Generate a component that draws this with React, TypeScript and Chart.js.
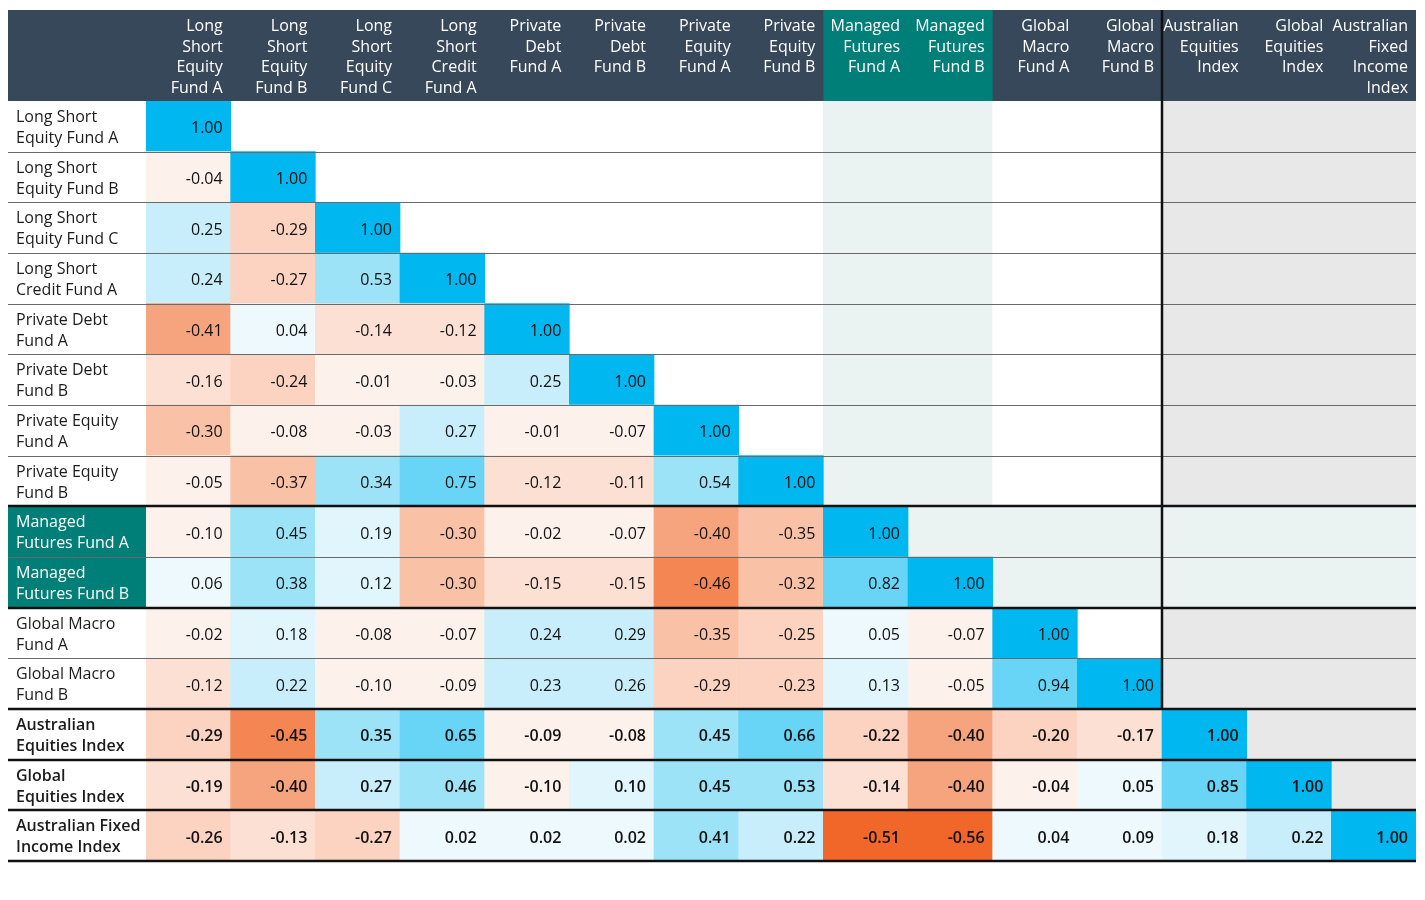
import React, { useEffect, useRef } from "react";
import { Chart, registerables } from "chart.js";

Chart.register(...registerables);

const columnLabels: string[][] = [
  ["Long", "Short", "Equity", "Fund A"],
  ["Long", "Short", "Equity", "Fund B"],
  ["Long", "Short", "Equity", "Fund C"],
  ["Long", "Short", "Credit", "Fund A"],
  ["Private", "Debt", "Fund A"],
  ["Private", "Debt", "Fund B"],
  ["Private", "Equity", "Fund A"],
  ["Private", "Equity", "Fund B"],
  ["Managed", "Futures", "Fund A"],
  ["Managed", "Futures", "Fund B"],
  ["Global", "Macro", "Fund A"],
  ["Global", "Macro", "Fund B"],
  ["Australian", "Equities", "Index"],
  ["Global", "Equities", "Index"],
  ["Australian", "Fixed", "Income", "Index"],
];

const rowLabels: string[][] = [
  ["Long Short", "Equity Fund A"],
  ["Long Short", "Equity Fund B"],
  ["Long Short", "Equity Fund C"],
  ["Long Short", "Credit Fund A"],
  ["Private Debt", "Fund A"],
  ["Private Debt", "Fund B"],
  ["Private Equity", "Fund A"],
  ["Private Equity", "Fund B"],
  ["Managed", "Futures Fund A"],
  ["Managed", "Futures Fund B"],
  ["Global Macro", "Fund A"],
  ["Global Macro", "Fund B"],
  ["Australian", "Equities Index"],
  ["Global", "Equities Index"],
  ["Australian Fixed", "Income Index"],
];

const correlations: number[][] = [
  [1.0],
  [-0.04, 1.0],
  [0.25, -0.29, 1.0],
  [0.24, -0.27, 0.53, 1.0],
  [-0.41, 0.04, -0.14, -0.12, 1.0],
  [-0.16, -0.24, -0.01, -0.03, 0.25, 1.0],
  [-0.3, -0.08, -0.03, 0.27, -0.01, -0.07, 1.0],
  [-0.05, -0.37, 0.34, 0.75, -0.12, -0.11, 0.54, 1.0],
  [-0.1, 0.45, 0.19, -0.3, -0.02, -0.07, -0.4, -0.35, 1.0],
  [0.06, 0.38, 0.12, -0.3, -0.15, -0.15, -0.46, -0.32, 0.82, 1.0],
  [-0.02, 0.18, -0.08, -0.07, 0.24, 0.29, -0.35, -0.25, 0.05, -0.07, 1.0],
  [-0.12, 0.22, -0.1, -0.09, 0.23, 0.26, -0.29, -0.23, 0.13, -0.05, 0.94, 1.0],
  [-0.29, -0.45, 0.35, 0.65, -0.09, -0.08, 0.45, 0.66, -0.22, -0.4, -0.2, -0.17, 1.0],
  [-0.19, -0.4, 0.27, 0.46, -0.1, 0.1, 0.45, 0.53, -0.14, -0.4, -0.04, 0.05, 0.85, 1.0],
  [-0.26, -0.13, -0.27, 0.02, 0.02, 0.02, 0.41, 0.22, -0.51, -0.56, 0.04, 0.09, 0.18, 0.22, 1.0],
];

const managedIdx = [8, 9];
const indexIdx = [12, 13, 14];

const SLATE = "#37485a";
const TEAL = "#007f78";
const LIGHT_GREEN = "#eaf3f1";
const LIGHT_GREY = "#e8e8e8";
const FONT = '"Open Sans", sans-serif';

function cellColor(v: number): string {
  if (v >= 0.999) return "#00b7ef";
  if (v >= 0.6) return "#68d4f6";
  if (v >= 0.3) return "#9de3f8";
  if (v >= 0.2) return "#c9eefb";
  if (v >= 0.1) return "#e0f5fc";
  if (v >= 0) return "#eef9fd";
  if (v > -0.105) return "#fdf1eb";
  if (v > -0.195) return "#fde0d4";
  if (v > -0.295) return "#fbd3c0";
  if (v > -0.385) return "#f9c2a7";
  if (v > -0.425) return "#f6a47e";
  if (v > -0.5) return "#f38652";
  return "#f1672a";
}

function upperColor(i: number, j: number): string {
  if (managedIdx.includes(i) || managedIdx.includes(j)) return LIGHT_GREEN;
  if (j >= indexIdx[0]) return LIGHT_GREY;
  return "#ffffff";
}

const colKeys = columnLabels.map((c) => c.join(" "));

export default function App() {
  const ref = useRef<HTMLCanvasElement | null>(null);

  useEffect(() => {
    if (!ref.current) return;
    const n = colKeys.length;
    const lowerCells: any[] = [];
    const upperCells: any[] = [];
    correlations.forEach((row, i) => {
      row.forEach((v, j) => lowerCells.push({ x: colKeys[j], y: [i, i + 1], v, i, j }));
      for (let j = row.length; j < n; j++) upperCells.push({ x: colKeys[j], y: [i, i + 1], i, j });
    });

    const tablePlugin = {
      id: "tablePlugin",
      beforeDatasetsDraw(chart: any) {
        const { ctx, chartArea } = chart;
        const xs = chart.scales.x;
        const ys = chart.scales.y;
        const w = xs.width / n;
        const colLeft = (j: number) => xs.getPixelForValue(j) - w / 2;
        ctx.save();
        ctx.fillStyle = SLATE;
        ctx.fillRect(0, 2, chartArea.right, chartArea.top - 2);
        ctx.fillStyle = TEAL;
        ctx.fillRect(colLeft(managedIdx[0]), 2, colLeft(managedIdx[1]) + w - colLeft(managedIdx[0]), chartArea.top - 2);
        managedIdx.forEach((i) => {
          const t = ys.getPixelForValue(i);
          const b = ys.getPixelForValue(i + 1);
          ctx.fillStyle = TEAL;
          ctx.fillRect(0, t, chartArea.left, b - t);
        });
        ctx.restore();
      },
      afterDatasetsDraw(chart: any) {
        const { ctx, chartArea } = chart;
        const xs = chart.scales.x;
        const ys = chart.scales.y;
        const w = xs.width / n;
        const colLeft = (j: number) => xs.getPixelForValue(j) - w / 2;
        const rowTop = (i: number) => ys.getPixelForValue(i);
        ctx.save();
        ctx.textBaseline = "middle";
        ctx.fillStyle = "#ffffff";
        ctx.textAlign = "right";
        ctx.font = `16px ${FONT}`;
        columnLabels.forEach((lines, j) => {
          lines.forEach((t, k) => {
            ctx.fillText(t, colLeft(j) + w - 8, 18.5 + k * 20.6);
          });
        });
        ctx.textAlign = "left";
        rowLabels.forEach((lines, i) => {
          const bold = indexIdx.includes(i);
          ctx.font = `${bold ? "600 " : ""}16px ${FONT}`;
          ctx.fillStyle = managedIdx.includes(i) ? "#ffffff" : "#1c1c1c";
          const c = (rowTop(i) + rowTop(i + 1)) / 2 + 1.5;
          lines.forEach((t, k) => ctx.fillText(t, 8, c + (k === 0 ? -10.5 : 10.5)));
        });
        ctx.textAlign = "right";
        ctx.fillStyle = "#111111";
        correlations.forEach((row, i) => {
          const bold = indexIdx.includes(i);
          ctx.font = `${bold ? "600 " : ""}16px ${FONT}`;
          const c = (rowTop(i) + rowTop(i + 1)) / 2 + 2.5;
          row.forEach((v, j) => {
            ctx.fillText(v.toFixed(2), colLeft(j) + w - 8, c);
          });
        });
        const thick = [8, 10, 12, 13, 14, 15];
        for (let k = 1; k <= correlations.length; k++) {
          const y = rowTop(k);
          const isThick = thick.includes(k);
          ctx.beginPath();
          ctx.strokeStyle = isThick ? "#111111" : "#6a6a6a";
          ctx.lineWidth = isThick ? 2.5 : 1;
          const yy = Math.round(y) + (isThick ? 0 : 0.5);
          ctx.moveTo(0, yy);
          ctx.lineTo(chartArea.right, yy);
          ctx.stroke();
        }
        const vx = Math.round(colLeft(indexIdx[0]));
        ctx.beginPath();
        ctx.strokeStyle = "#111111";
        ctx.lineWidth = 2.5;
        ctx.moveTo(vx, 2);
        ctx.lineTo(vx, rowTop(indexIdx[0]));
        ctx.stroke();
        ctx.restore();
      },
    };

    const chart = new Chart(ref.current, {
      type: "bar",
      data: {
        labels: colKeys,
        datasets: [
          {
            data: lowerCells,
            backgroundColor: (c: any) => (c.raw ? cellColor(c.raw.v) : "#fff"),
            borderWidth: 0,
            barPercentage: 1,
            categoryPercentage: 1,
            grouped: false,
          } as any,
          {
            data: upperCells,
            backgroundColor: (c: any) => (c.raw ? upperColor(c.raw.i, c.raw.j) : "#fff"),
            borderWidth: 0,
            barPercentage: 1,
            categoryPercentage: 1,
            grouped: false,
          } as any,
        ],
      },
      options: {
        animation: false,
        responsive: true,
        maintainAspectRatio: false,
        layout: { padding: { left: 138, top: 93, right: 1, bottom: 17 } },
        plugins: { legend: { display: false }, tooltip: { enabled: false } },
        scales: {
          x: { type: "category", display: false, offset: true },
          y: { type: "linear", min: 0, max: correlations.length, reverse: true, display: false },
        },
      },
      plugins: [tablePlugin],
    });
    return () => chart.destroy();
  }, []);

  return (
    <div style={{ width: 1409, height: 870, position: "relative" }}>
      <canvas ref={ref} />
    </div>
  );
}
